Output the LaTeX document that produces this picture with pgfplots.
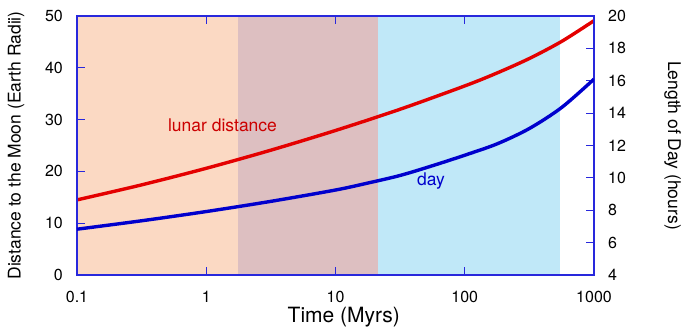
\documentclass[border=0pt]{standalone}
\usepackage{fontspec}
\setmainfont{TeX Gyre Heros}
\usepackage{pgfplots}
\pgfplotsset{compat=1.18}
\definecolor{peach}{RGB}{251,217,195}
\definecolor{mauve}{RGB}{221,191,193}
\definecolor{sky}{RGB}{192,232,248}
\definecolor{axblue}{RGB}{40,40,220}
\definecolor{curvered}{RGB}{228,0,0}
\definecolor{curveblue}{RGB}{0,0,205}
\definecolor{txtred}{RGB}{204,0,0}
\begin{document}
\begin{tikzpicture}
\path[use as bounding box] (-77pt,-52pt) rectangle (606pt,275pt);
\begin{axis}[
  at={(0,0)}, anchor=south west,
  scale only axis, width=517pt, height=259pt,
  xmode=log, xmin=0.1, xmax=1000,
  xminorticks=false,
  tick align=inside,
  major tick length=8pt,
  axis line style={axblue, line width=1.2pt},
  every tick/.style={axblue, line width=1.1pt},
  tick label style={font=\fontsize{16}{16}\selectfont, inner sep=0pt},
  /pgf/number format/assume math mode=true,
  ymin=0, ymax=50,
  xtick={0.1,1,10,100,1000}, xticklabels={0.1,1,10,100,1000},
  ytick={0,10,20,30,40,50},
  xtick pos=both, ytick pos=left,
  xticklabel style={yshift=-16pt, anchor=north},
  yticklabel style={xshift=-14pt, anchor=east},
  ylabel={Distance to the Moon (Earth Radii)},
  ylabel style={at={(axis description cs:-0.118,0.5)}, anchor=center, font=\fontsize{17.5}{17.5}\selectfont},
  xlabel={Time (Myrs)},
  xlabel style={at={(axis description cs:0.516,-0.163)}, anchor=center, font=\fontsize{21}{21}\selectfont},
  axis on top,
]
\addplot[fill=peach, draw=none] coordinates {(0.1,0) (1.75,0) (1.75,50) (0.1,50)} -- cycle;
\addplot[fill=mauve, draw=none] coordinates {(1.75,0) (21.3,0) (21.3,50) (1.75,50)} -- cycle;
\addplot[fill=sky, draw=none] coordinates {(21.3,0) (550,0) (550,50) (21.3,50)} -- cycle;
\addplot[curvered, line width=3.4pt, smooth] coordinates {
 (0.1,14.5) (0.3162,17.4) (1,20.6) (3.162,24.1) (10,27.9) (31.62,32.0) (100,36.5) (177.8,39.0) (316.2,41.8) (562.3,45.1) (1000,49.1)};
\node[txtred, font=\fontsize{17.5}{17.5}\selectfont] at (axis cs:1.336,29.0) {lunar distance};
\node[curveblue, font=\fontsize{17.5}{17.5}\selectfont] at (axis cs:54.8,18.1) {day};
\end{axis}
\begin{axis}[
  at={(0,0)}, anchor=south west,
  scale only axis, width=517pt, height=259pt,
  xmode=log, xmin=0.1, xmax=1000,
  xminorticks=false,
  tick align=inside,
  major tick length=8pt,
  axis line style={axblue, line width=1.2pt},
  every tick/.style={axblue, line width=1.1pt},
  tick label style={font=\fontsize{16}{16}\selectfont, inner sep=0pt},
  /pgf/number format/assume math mode=true,
  ymin=4, ymax=20,
  ytick={4,6,8,10,12,14,16,18,20},
  axis x line=none,
  axis y line*=right,
  yticklabel style={xshift=14pt, anchor=west},
  ylabel={Length of Day (hours)},
  ylabel style={at={(axis description cs:1.152,0.5)}, anchor=center, rotate=180, font=\fontsize{17.5}{17.5}\selectfont},
]
\addplot[curveblue, line width=3.4pt, smooth] coordinates {
 (0.1,6.83) (0.3162,7.35) (1,7.92) (3.162,8.55) (10,9.25) (17.78,9.68) (31.62,10.15) (56.23,10.75) (100,11.4) (177.8,12.1) (316.2,13.05) (562.3,14.35) (1000,16.1)};
\end{axis}
\end{tikzpicture}
\end{document}
